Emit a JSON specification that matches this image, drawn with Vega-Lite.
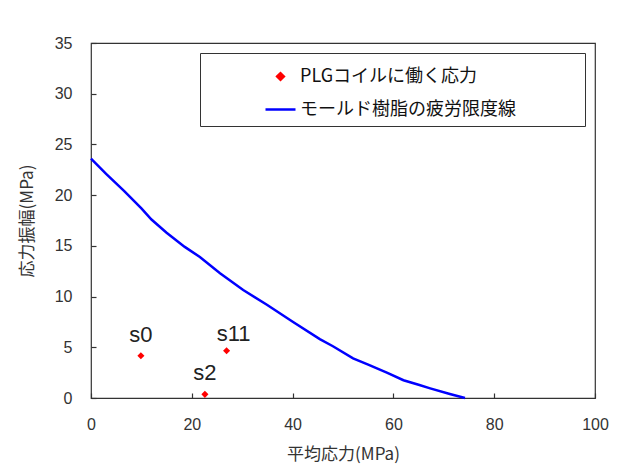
{
  "$schema": "https://vega.github.io/schema/vega-lite/v6.json",
  "autosize": {"type": "none"},
  "width": 504,
  "height": 355,
  "padding": {"left": 91, "top": 43, "right": 41, "bottom": 72},
  "background": "white",
  "config": {
    "font": "Noto Sans CJK JP",
    "view": {"stroke": "#333333", "strokeWidth": 1.2},
    "axis": {
      "grid": false,
      "domain": false,
      "offset": -5,
      "tickSize": 5,
      "tickColor": "#333333",
      "tickWidth": 1.2,
      "labelFlush": false,
      "labelOverlap": false,
      "labelColor": "#333333",
      "titleColor": "#333333",
      "labelFont": "Liberation Sans",
      "labelFontSize": 16,
      "titleFontSize": 17,
      "titleFontWeight": "normal"
    }
  },
  "datasets": {
    "curve": [
      {"x": 0, "y": 23.6, "series": "モールド樹脂の疲労限度線"},
      {"x": 3, "y": 22.1, "series": "モールド樹脂の疲労限度線"},
      {"x": 6.6, "y": 20.4, "series": "モールド樹脂の疲労限度線"},
      {"x": 10, "y": 18.7, "series": "モールド樹脂の疲労限度線"},
      {"x": 12, "y": 17.6, "series": "モールド樹脂の疲労限度線"},
      {"x": 15, "y": 16.3, "series": "モールド樹脂の疲労限度線"},
      {"x": 18.6, "y": 14.9, "series": "モールド樹脂の疲労限度線"},
      {"x": 21.6, "y": 13.9, "series": "モールド樹脂の疲労限度線"},
      {"x": 25.6, "y": 12.3, "series": "モールド樹脂の疲労限度線"},
      {"x": 30.2, "y": 10.65, "series": "モールド樹脂の疲労限度線"},
      {"x": 34.9, "y": 9.2, "series": "モールド樹脂の疲労限度線"},
      {"x": 40.1, "y": 7.5, "series": "モールド樹脂の疲労限度線"},
      {"x": 45.4, "y": 5.8, "series": "モールド樹脂の疲労限度線"},
      {"x": 48, "y": 5.1, "series": "モールド樹脂の疲労限度線"},
      {"x": 52, "y": 3.9, "series": "モールド樹脂の疲労限度線"},
      {"x": 55, "y": 3.3, "series": "モールド樹脂の疲労限度線"},
      {"x": 58.7, "y": 2.5, "series": "モールド樹脂の疲労限度線"},
      {"x": 62, "y": 1.75, "series": "モールド樹脂の疲労限度線"},
      {"x": 65, "y": 1.3, "series": "モールド樹脂の疲労限度線"},
      {"x": 67.3, "y": 0.95, "series": "モールド樹脂の疲労限度線"},
      {"x": 71.2, "y": 0.4, "series": "モールド樹脂の疲労限度線"},
      {"x": 74.2, "y": 0.0, "series": "モールド樹脂の疲労限度線"}
    ],
    "pts": [
      {"x": 9.9, "y": 4.17, "label": "s0", "series": "PLGコイルに働く応力"},
      {"x": 22.6, "y": 0.36, "label": "s2", "series": "PLGコイルに働く応力"},
      {"x": 26.9, "y": 4.66, "label": "s11", "series": "PLGコイルに働く応力"}
    ]
  },
  "encoding": {
    "x": {
      "field": "x", "type": "quantitative",
      "scale": {"domain": [0, 100], "nice": false},
      "axis": {"title": "平均応力(MPa)", "values": [0, 20, 40, 60, 80, 100], "labelPadding": 18, "titlePadding": 14}
    },
    "y": {
      "field": "y", "type": "quantitative",
      "scale": {"domain": [0, 35], "nice": false},
      "axis": {"title": "応力振幅(MPa)", "values": [0, 5, 10, 15, 20, 25, 30, 35], "labelPadding": 19, "titlePadding": 18}
    }
  },
  "layer": [
    {
      "data": {"name": "curve"},
      "mark": {"type": "line", "strokeWidth": 2.5},
      "encoding": {
        "color": {
          "field": "series", "type": "nominal",
          "scale": {"domain": ["PLGコイルに働く応力", "モールド樹脂の疲労限度線"], "range": ["#ff0000", "#0000ff"]},
          "legend": {
            "title": " ",
            "titleOrient": "right",
            "titlePadding": 62,
            "titleFontSize": 4,
            "orient": "none",
            "legendX": 109,
            "legendY": 10,
            "fillColor": "white",
            "strokeColor": "#333333",
            "padding": 7,
            "labelFontSize": 18,
            "labelLimit": 0,
            "labelColor": "#111111",
            "labelOffset": 3,
            "symbolOffset": 57,
            "rowPadding": 7,
            "symbolStrokeWidth": 2.5,
            "encode": {
              "symbols": {"update": {"size": {"signal": "datum.value === 'PLGコイルに働く応力' ? 45 : 900"}}}
            }
          }
        }
      }
    },
    {
      "data": {"name": "pts"},
      "mark": {"type": "point", "filled": true, "opacity": 1, "size": 50},
      "encoding": {
        "color": {"field": "series", "type": "nominal"},
        "shape": {
          "field": "series", "type": "nominal",
          "scale": {"domain": ["PLGコイルに働く応力", "モールド樹脂の疲労限度線"], "range": ["diamond", "stroke"]}
        }
      }
    },
    {
      "data": {"name": "pts"},
      "transform": [{"filter": "datum.label !== 's11'"}],
      "mark": {"type": "text", "font": "Liberation Sans", "fontSize": 22, "dy": -21, "color": "#222222"},
      "encoding": {"text": {"field": "label"}}
    },
    {
      "data": {"name": "pts"},
      "transform": [{"filter": "datum.label === 's11'"}],
      "mark": {"type": "text", "font": "Liberation Sans", "fontSize": 22, "dy": -17, "dx": 7, "color": "#222222"},
      "encoding": {"text": {"field": "label"}}
    }
  ]
}
